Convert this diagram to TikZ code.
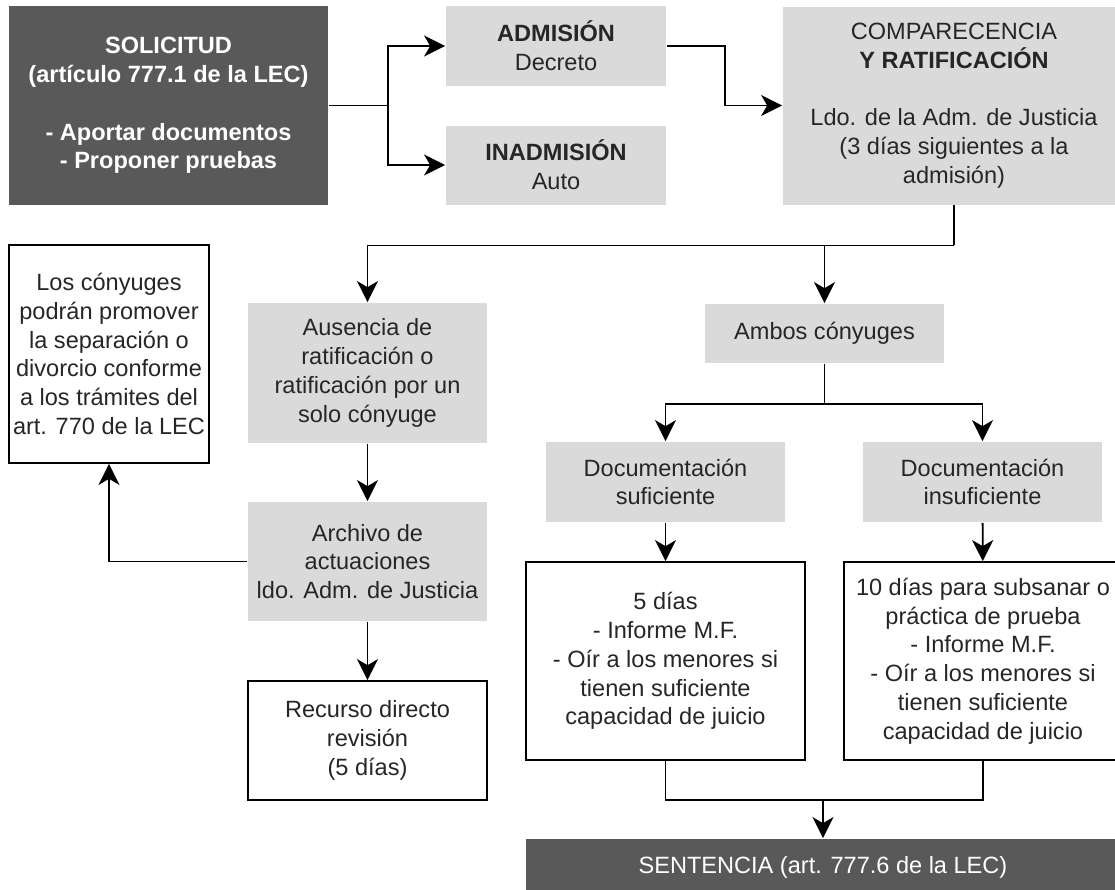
\documentclass[tikz,border=0pt]{standalone}
\usepackage{fontspec}
\setmainfont{Liberation Sans}
\usepackage{tikz}
\usetikzlibrary{arrows.meta}
\usetikzlibrary{shapes,calc,positioning}
\tikzset{darkbox/.style={fill=strong, text=white, align=center, inner sep=0pt}}
\tikzset{greybox/.style={fill=soft, text=ink, align=center, inner sep=0pt}}
\tikzset{whitebox/.style={draw=black, fill=white, text=ink, align=center, inner sep=0pt}}
\definecolor{strong}{RGB}{89,89,89}
\definecolor{soft}{RGB}{218,218,218}
\definecolor{ink}{RGB}{38,38,38}

\begin{document}
\begin{tikzpicture}[>={Stealth[length=12pt,width=12pt,inset=3.5pt]}, line width=1pt, on grid, font=\fontsize{13.4}{16.4}\selectfont]
			\useasboundingbox (0,0) rectangle (22.3,-17.8);
			\clip (0,0) rectangle (22.3,-17.8);
			\node[darkbox, minimum width=6.38cm, minimum height=3.98cm] (sol) at (3.37,-2.11) {\textbf{SOLICITUD}\\\textbf{(artículo 777.1 de la LEC)}\\[16.4pt]\textbf{- Aportar documentos}\\\textbf{- Proponer pruebas}};
			\node[greybox, minimum width=4.4cm, minimum height=1.6cm] (adm) [above right = 1.19cm and 7.75cm of sol] {\textbf{ADMISIÓN}\\Decreto};
			\node[greybox, minimum width=4.4cm, minimum height=1.58cm] (inadm) [below = 2.38cm of adm] {\textbf{INADMISIÓN}\\Auto};
			\node[greybox, minimum width=6.84cm, minimum height=3.96cm] (comp) [right = 15.71cm of sol] {COMPARECENCIA\\\textbf{Y RATIFICACIÓN}\\[16.4pt]Ldo. de la Adm. de Justicia\\(3 días siguientes a la\\admisión)};
			
			\node[greybox, minimum width=4.78cm, minimum height=2.8cm] (aus) [below right = 5.35cm and 3.98cm of sol] {Ausencia de\\ratificación o\\ratificación por un\\solo cónyuge};
			\node[whitebox, minimum width=4cm, minimum height=4.36cm] (cony) [above left = 0.38cm and 5.17cm of aus] {Los cónyuges\\podrán promover\\la separación o\\divorcio conforme\\a los trámites del\\art. 770 de la LEC};
			\node[greybox, minimum width=4.78cm, minimum height=2.38cm] (arch) [below = 3.77cm of aus] {Archivo de\\actuaciones\\ldo. Adm. de Justicia};
			\node[whitebox, minimum width=4.78cm, minimum height=2.38cm] (rec) [below = 3.58cm of arch] {Recurso directo\\revisión\\(5 días)};
			
			\node[greybox, minimum width=4.78cm, minimum height=1.18cm] (ambos) [above right = 0.79cm and 9.14cm of aus] {Ambos cónyuges};
			\node[greybox, minimum width=4.78cm, minimum height=1.6cm] (docsuf) [below left = 2.97cm and 3.18cm of ambos] {Documentación\\suficiente};
			\node[greybox, minimum width=4.78cm, minimum height=1.6cm] (docins) [right = 6.34cm of docsuf] {Documentación\\insuficiente};
			\node[whitebox, minimum width=5.58cm, minimum height=3.96cm] (dias5) [below = 3.58cm of docsuf] {5 días\\- Informe M.F.\\- Oír a los menores si\\tienen suficiente\\capacidad de juicio};
			\node[whitebox, minimum width=5.56cm, minimum height=3.96cm] (dias10) [right = 6.35cm of dias5] {10 días para subsanar o\\práctica de prueba\\- Informe M.F.\\- Oír a los menores si\\tienen suficiente\\capacidad de juicio};
			\node[darkbox, minimum width=11.88cm, minimum height=1.12cm] (sent) [below right = 4.12cm and 3.15cm of dias5] {SENTENCIA (art. 777.6 de la LEC)};
			
			
			\draw (sol.east) -- ++(1.18,0) coordinate (s1);
			\draw[->] (s1) |- (adm.west);
			\draw[->] (s1) |- (inadm.west);
			\draw[->] (adm.east) -- ++(1.16,0) |- (comp.west);
			
			\draw (comp.south) -- ++(0,-0.8) coordinate (c1);
			\draw[->] (c1) -| (aus.north);
			\draw[->] (c1 -| ambos.north) -- (ambos.north);
			
			\path (aus) edge [->] (arch);
			\path (arch) edge [->] (rec);
			\draw[->] (arch.west) -| (cony.south);
			
			\draw (ambos.south) -- ++(0,-0.8) coordinate (a1);
			\draw[->] (a1) -| (docsuf.north);
			\draw[->] (a1) -| (docins.north);
			\path (docsuf) edge [->] (dias5);
			\path (docins) edge [->] (dias10);
			
			\draw (dias5.south) -- ++(0,-0.78) coordinate (d1) -| (dias10.south);
			\draw[->] (sent.north |- d1) -- (sent.north);
		\end{tikzpicture}
\end{document}
